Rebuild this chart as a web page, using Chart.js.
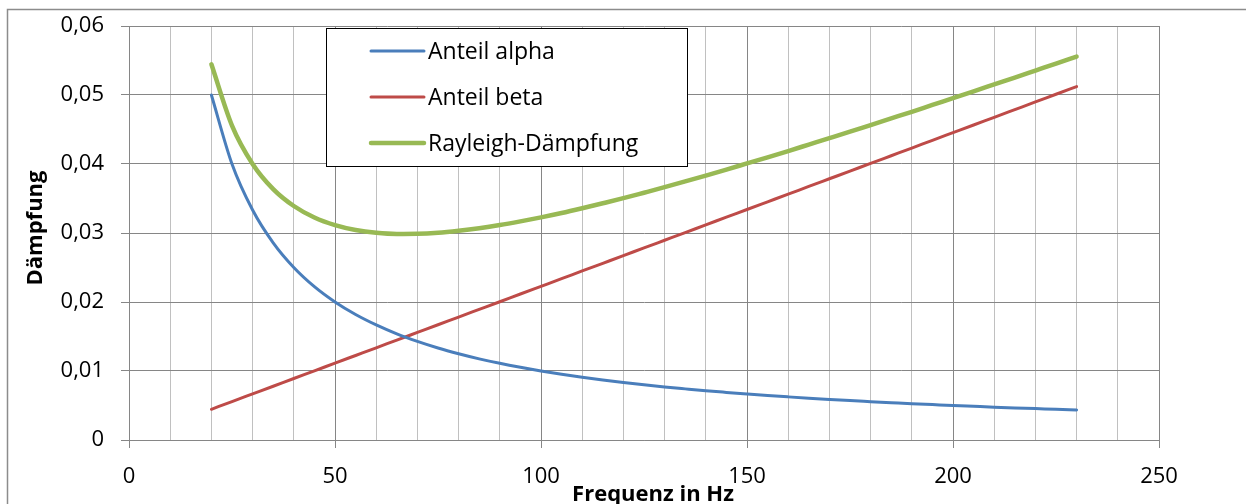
<!DOCTYPE html>
<html>
<head>
<meta charset="utf-8">
<script src="https://cdn.jsdelivr.net/npm/chart.js@4/dist/chart.umd.min.js"></script>
<style>
  html, body { margin: 0; padding: 0; background: #fff; }
  #wrap { width: 1246px; height: 504px; position: relative; }
</style>
</head>
<body>
<div id="wrap"><canvas id="c" width="1246" height="504"></canvas></div>
<script>
// Frequenz in Hz
const frequencies = [20, 25, 30, 35, 40, 45, 50, 55, 60, 65, 70, 75, 80, 85, 90, 95, 100,
  105, 110, 115, 120, 125, 130, 135, 140, 145, 150, 155, 160, 165, 170, 175, 180,
  185, 190, 195, 200, 205, 210, 215, 220, 225, 230];

// Anteil alpha (massenproportional)
const anteilAlpha = [0.05000, 0.04000, 0.03333, 0.02857, 0.02500, 0.02222, 0.02000, 0.01818,
  0.01667, 0.01538, 0.01429, 0.01333, 0.01250, 0.01176, 0.01111, 0.01053, 0.01000, 0.00952,
  0.00909, 0.00870, 0.00833, 0.00800, 0.00769, 0.00741, 0.00714, 0.00690, 0.00667, 0.00645,
  0.00625, 0.00606, 0.00588, 0.00571, 0.00556, 0.00541, 0.00526, 0.00513, 0.00500, 0.00488,
  0.00476, 0.00465, 0.00455, 0.00444, 0.00435];

// Anteil beta (steifigkeitsproportional)
const anteilBeta = [0.00445, 0.00557, 0.00668, 0.00779, 0.00891, 0.01002, 0.01114, 0.01225,
  0.01336, 0.01448, 0.01559, 0.01670, 0.01782, 0.01893, 0.02004, 0.02116, 0.02227, 0.02338,
  0.02450, 0.02561, 0.02672, 0.02784, 0.02895, 0.03006, 0.03118, 0.03229, 0.03341, 0.03452,
  0.03563, 0.03675, 0.03786, 0.03897, 0.04009, 0.04120, 0.04231, 0.04343, 0.04454, 0.04565,
  0.04677, 0.04788, 0.04899, 0.05011, 0.05122];

// Rayleigh-Dämpfung gesamt
const rayleigh = [0.05445, 0.04557, 0.04001, 0.03636, 0.03391, 0.03224, 0.03114, 0.03043,
  0.03003, 0.02986, 0.02988, 0.03003, 0.03032, 0.03069, 0.03115, 0.03169, 0.03227, 0.03290,
  0.03359, 0.03431, 0.03505, 0.03584, 0.03664, 0.03747, 0.03832, 0.03919, 0.04008, 0.04097,
  0.04188, 0.04281, 0.04374, 0.04468, 0.04565, 0.04661, 0.04757, 0.04856, 0.04954, 0.05053,
  0.05153, 0.05253, 0.05354, 0.05455, 0.05557];

const seriesNames = ['Anteil alpha', 'Anteil beta', 'Rayleigh-Dämpfung'];
const xTitle = 'Frequenz in Hz';
const yTitle = 'Dämpfung';

const FONT = '"Open Sans", "Liberation Sans", sans-serif';
const MAJOR = '#868686';
const MINOR = '#c0c0c0';

function pts(ys) { return frequencies.map((f, i) => ({ x: f, y: ys[i] })); }

// white page and the outer chart frame
const framePlugin = {
  id: 'frame',
  beforeDraw(chart) {
    const ctx = chart.ctx;
    ctx.save();
    ctx.fillStyle = '#fff';
    ctx.fillRect(0, 0, chart.width, chart.height);
    ctx.strokeStyle = '#8c8c8c';
    ctx.lineWidth = 1.5;
    ctx.beginPath();
    ctx.moveTo(7.5, chart.height + 2);
    ctx.lineTo(7.5, 9.5);
    ctx.lineTo(chart.width + 2, 9.5);
    ctx.stroke();
    ctx.restore();
  }
};

// axis titles
const titlesPlugin = {
  id: 'axisTitles',
  afterDraw(chart) {
    const ctx = chart.ctx;
    ctx.save();
    ctx.fillStyle = '#000';
    ctx.font = 'bold 22px ' + FONT;
    ctx.textAlign = 'center';
    ctx.textBaseline = 'alphabetic';
    ctx.fillText(xTitle, 653, 501);
    ctx.translate(42, 228);
    ctx.rotate(-Math.PI / 2);
    ctx.fillText(yTitle, 0, 0);
    ctx.restore();
  }
};

// boxed legend inside the plot area
const legendPlugin = {
  id: 'boxLegend',
  afterDraw(chart) {
    const ctx = chart.ctx;
    const box = { x: 326.5, y: 28.5, w: 361, h: 138 };
    ctx.save();
    ctx.fillStyle = '#fff';
    ctx.fillRect(box.x, box.y, box.w, box.h);
    ctx.strokeStyle = '#000';
    ctx.lineWidth = 1;
    ctx.strokeRect(box.x, box.y, box.w, box.h);
    ctx.font = '23px ' + FONT;
    ctx.textAlign = 'left';
    ctx.textBaseline = 'alphabetic';
    chart.data.datasets.forEach((ds, i) => {
      const yRow = 51 + i * 46;
      ctx.strokeStyle = ds.borderColor;
      ctx.lineWidth = ds.borderWidth;
      ctx.lineCap = 'round';
      ctx.beginPath();
      ctx.moveTo(371, yRow);
      ctx.lineTo(424, yRow);
      ctx.stroke();
      ctx.fillStyle = '#000';
      ctx.fillText(ds.label, 428, yRow + 8);
    });
    ctx.restore();
  }
};

new Chart(document.getElementById('c'), {
  type: 'line',
  data: {
    datasets: [
      { label: seriesNames[0], data: pts(anteilAlpha), borderColor: '#4a7ebb', borderWidth: 3 },
      { label: seriesNames[1], data: pts(anteilBeta), borderColor: '#be4b48', borderWidth: 3 },
      { label: seriesNames[2], data: pts(rayleigh), borderColor: '#98b954', borderWidth: 4.5 }
    ]
  },
  options: {
    responsive: false,
    animation: false,
    devicePixelRatio: 1,
    layout: { padding: { left: 0, top: 26, right: 87, bottom: 0 } },
    elements: {
      point: { radius: 0, hoverRadius: 0 },
      line: { cubicInterpolationMode: 'monotone', fill: false, borderCapStyle: 'round', borderJoinStyle: 'round' }
    },
    plugins: {
      legend: { display: false },
      tooltip: { enabled: false },
      title: { display: false }
    },
    scales: {
      x: {
        type: 'linear',
        min: 0,
        max: 250,
        afterFit(scale) {
          scale.height = 64;
          scale.paddingLeft = 0;
          scale.paddingRight = 0;
        },
        border: { display: true, color: MAJOR, width: 1 },
        grid: {
          color: (c) => (c.tick && c.tick.value % 50 === 0) ? MAJOR : MINOR,
          tickColor: (c) => (c.tick && c.tick.value % 50 === 0) ? MAJOR : 'rgba(0,0,0,0)',
          tickLength: 8,
          lineWidth: 1
        },
        ticks: {
          stepSize: 10,
          autoSkip: false,
          maxRotation: 0,
          padding: 16,
          color: '#000',
          font: { family: FONT, size: 22 },
          callback: (v) => (v % 50 === 0 ? String(v) : '')
        }
      },
      y: {
        type: 'linear',
        min: 0,
        max: 0.06,
        afterFit(scale) {
          scale.width = 129;
          scale.paddingTop = 0;
          scale.paddingBottom = 0;
        },
        border: { display: true, color: MAJOR, width: 1 },
        grid: { color: MAJOR, tickColor: MAJOR, tickLength: 8, lineWidth: 1 },
        ticks: {
          stepSize: 0.01,
          padding: 17,
          color: '#000',
          font: { family: FONT, size: 22 },
          callback: (v) => {
            const n = Math.round(v * 100);
            return n === 0 ? '0' : (n / 100).toFixed(2).replace('.', ',');
          }
        }
      }
    }
  },
  plugins: [framePlugin, titlesPlugin, legendPlugin]
});
</script>
</body>
</html>
